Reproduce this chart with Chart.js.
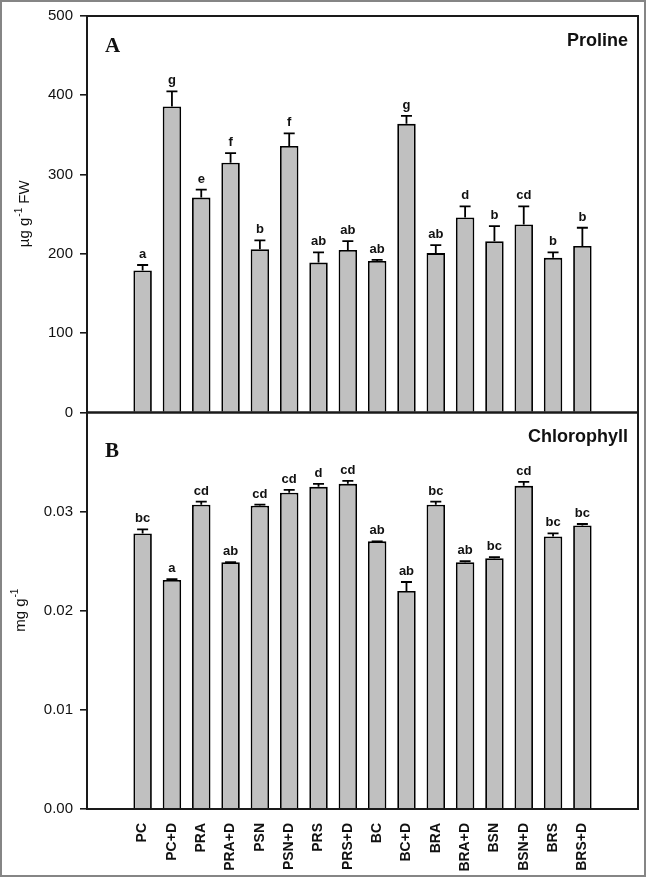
<!DOCTYPE html>
<html>
<head>
<meta charset="utf-8">
<script src="https://cdn.jsdelivr.net/npm/chart.js@4.4.0/dist/chart.umd.min.js"></script>
<style>
html,body{margin:0;padding:0;background:#fff;}
#wrap{position:relative;width:649px;height:881px;overflow:hidden;}
#frame{position:absolute;left:0;top:0;width:642px;height:873px;border:2px solid #858585;pointer-events:none;}
canvas{position:absolute;left:0;top:0;}
</style>
</head>
<body>
<div id="wrap"><canvas id="c" width="649" height="881"></canvas><div id="frame"></div></div>
<script>
// ---- data ----
const categories = ['PC','PC+D','PRA','PRA+D','PSN','PSN+D','PRS','PRS+D','BC','BC+D','BRA','BRA+D','BSN','BSN+D','BRS','BRS+D'];

const prolineMean    = [179, 386, 271, 315, 206, 336, 189, 205, 191, 364, 201, 246, 216, 237, 195, 210];
const prolineSE      = [7, 19, 10, 12, 11, 16, 13, 11, 1.5, 10, 10, 14, 19, 23, 7, 23];
const prolineLetters = ['a','g','e','f','b','f','ab','ab','ab','g','ab','d','b','cd','b','b'];

const chlMean    = [0.0278, 0.0231, 0.0307, 0.0249, 0.0306, 0.0319, 0.0325, 0.0328, 0.0270, 0.0220, 0.0307, 0.0249, 0.0253, 0.0326, 0.0275, 0.0286];
const chlSE      = [0.0004, 0.0001, 0.0003, 0.0000, 0.0001, 0.0003, 0.0003, 0.0003, 0.0000, 0.0009, 0.0003, 0.0001, 0.0001, 0.0004, 0.0003, 0.00015];
const chlLetters = ['bc','a','cd','ab','cd','cd','d','cd','ab','ab','bc','ab','bc','cd','bc','bc'];

const prolineTicks = [0, 100, 200, 300, 400, 500];
const chlTicks     = [0, 0.01, 0.02, 0.03];

// ---- styling ----
const SANS = "'Liberation Sans', Arial, sans-serif";
const SERIF = "'Liberation Serif', 'Times New Roman', serif";
const INK = '#111';

const panelInfo = {
  yP: { letter: 'A', name: 'Proline', title: ['\u00b5g g', '-1', ' FW'], titleX: 25 },
  yC: { letter: 'B', name: 'Chlorophyll', title: ['mg g', '-1', ''], titleX: 21 }
};

const annotPlugin = {
  id: 'annot',
  afterDatasetsDraw(chart) {
    const ctx = chart.ctx;
    chart.data.datasets.forEach((ds, di) => {
      const meta = chart.getDatasetMeta(di);
      const ys = chart.scales[ds.yAxisID];
      meta.data.forEach((bar, i) => {
        const yTop = ys.getPixelForValue(ds.means[i]);
        const yErr = ys.getPixelForValue(ds.means[i] + ds.errors[i]);
        ctx.save();
        ctx.strokeStyle = '#000';
        ctx.lineWidth = 1.8;
        ctx.beginPath();
        ctx.moveTo(bar.x, yTop);
        ctx.lineTo(bar.x, yErr);
        ctx.moveTo(bar.x - 5.5, yErr);
        ctx.lineTo(bar.x + 5.5, yErr);
        ctx.stroke();
        ctx.fillStyle = INK;
        ctx.font = 'bold 13px ' + SANS;
        ctx.textAlign = 'center';
        ctx.textBaseline = 'alphabetic';
        ctx.fillText(ds.letters[i], bar.x, yErr - 7);
        ctx.restore();
      });
    });
  },
  afterDraw(chart) {
    const ctx = chart.ctx, area = chart.chartArea;
    ['yP', 'yC'].forEach(id => {
      const s = chart.scales[id];
      const info = panelInfo[id];
      ctx.save();
      // panel box
      ctx.strokeStyle = '#1a1a1a';
      ctx.lineWidth = 2;
      ctx.strokeRect(area.left, s.top, area.right - area.left, s.bottom - s.top);
      // panel letter
      ctx.fillStyle = INK;
      ctx.font = 'bold 21px ' + SERIF;
      ctx.textAlign = 'left';
      ctx.textBaseline = 'alphabetic';
      ctx.fillText(info.letter, area.left + 18, s.top + (id === 'yP' ? 36 : 44));
      // panel name
      ctx.font = 'bold 18px ' + SANS;
      ctx.textAlign = 'right';
      ctx.fillText(info.name, area.right - 10, s.top + (id === 'yP' ? 30 : 29));
      // axis title (rotated, with superscript)
      const cy = (s.top + s.bottom) / 2;
      ctx.translate(info.titleX, cy);
      ctx.rotate(-Math.PI / 2);
      const big = '15px ' + SANS, small = '10px ' + SANS;
      ctx.font = big; const w1 = ctx.measureText(info.title[0]).width;
      ctx.font = small; const w2 = ctx.measureText(info.title[1]).width;
      ctx.font = big; const w3 = ctx.measureText(info.title[2]).width;
      let x = -(w1 + w2 + w3) / 2;
      ctx.textAlign = 'left';
      ctx.textBaseline = 'middle';
      ctx.font = big; ctx.fillText(info.title[0], x, 0); x += w1 + 1;
      ctx.font = small; ctx.fillText(info.title[1], x, -6); x += w2;
      ctx.font = big; ctx.fillText(info.title[2], x, 0);
      ctx.restore();
    });
  }
};

const barStyle = {
  backgroundColor: '#c0c0c0',
  borderColor: '#000',
  borderWidth: 1.8,
  borderSkipped: 'start',
  barPercentage: 0.63,
  categoryPercentage: 1.0,
  grouped: false
};

new Chart(document.getElementById('c'), {
  type: 'bar',
  data: {
    datasets: [
      Object.assign({
        label: 'Proline',
        yAxisID: 'yP',
        data: prolineMean.map((v, i) => ({ x: i, y: v })),
        means: prolineMean, errors: prolineSE, letters: prolineLetters
      }, barStyle),
      Object.assign({
        label: 'Chlorophyll',
        yAxisID: 'yC',
        data: chlMean.map((v, i) => ({ x: i, y: v })),
        means: chlMean, errors: chlSE, letters: chlLetters
      }, barStyle)
    ]
  },
  options: {
    responsive: false,
    animation: false,
    devicePixelRatio: 1,
    layout: { padding: { top: 16, right: 11, left: 0, bottom: 0 } },
    plugins: { legend: { display: false }, tooltip: { enabled: false } },
    scales: {
      x: {
        type: 'linear',
        min: -1.31,
        max: categories.length - 1 + 1.31,
        grid: { display: false },
        border: { display: false },
        afterBuildTicks: s => { s.ticks = categories.map((c, i) => ({ value: i })); },
        afterFit: s => { s.height = 72; },
        ticks: {
          autoSkip: false,
          minRotation: 90,
          maxRotation: 90,
          padding: 6,
          color: INK,
          font: { family: SANS, size: 14, weight: 'bold' },
          callback: v => categories[v]
        }
      },
      yC: {
        type: 'linear',
        position: 'left',
        stack: 'panels',
        stackWeight: 1,
        min: 0,
        max: 0.04,
        border: { display: false },
        grid: { drawOnChartArea: false, drawTicks: true, tickLength: 7, color: '#1a1a1a', lineWidth: 1.6 },
        afterBuildTicks: s => { s.ticks = chlTicks.map(v => ({ value: v })); },
        afterFit: s => { s.width = 87; },
        ticks: {
          padding: 7,
          color: INK,
          font: { family: SANS, size: 15 },
          callback: v => Number(v).toFixed(2)
        }
      },
      yP: {
        type: 'linear',
        position: 'left',
        stack: 'panels',
        stackWeight: 1,
        min: 0,
        max: 500,
        border: { display: false },
        grid: { drawOnChartArea: false, drawTicks: true, tickLength: 7, color: '#1a1a1a', lineWidth: 1.6 },
        afterBuildTicks: s => { s.ticks = prolineTicks.map(v => ({ value: v })); },
        afterFit: s => { s.width = 87; },
        ticks: {
          padding: 7,
          color: INK,
          font: { family: SANS, size: 15 },
          callback: v => String(v)
        }
      }
    }
  },
  plugins: [annotPlugin]
});
</script>
</body>
</html>
